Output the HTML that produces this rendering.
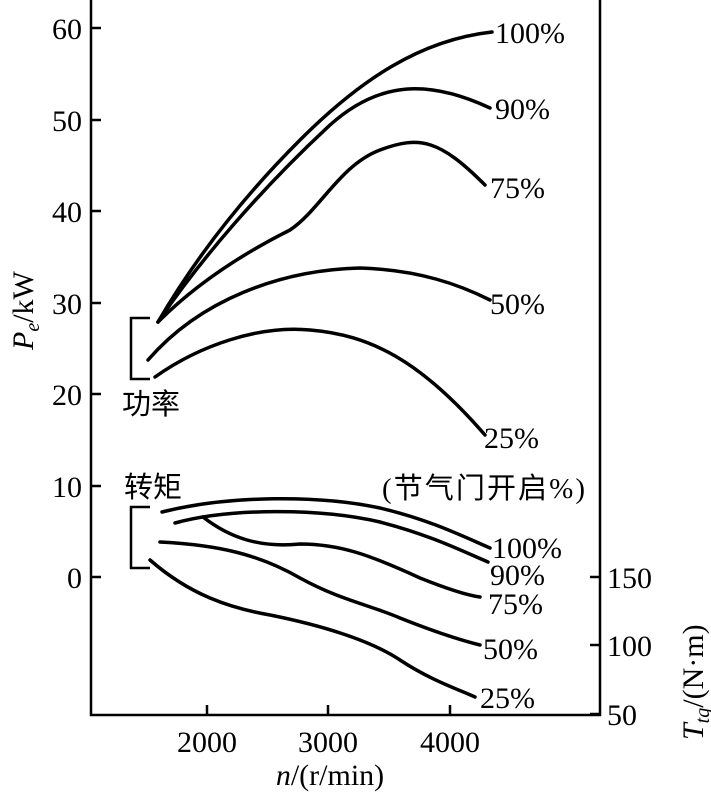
<!DOCTYPE html>
<html><head><meta charset="utf-8"><style>
html,body{margin:0;padding:0;background:#fff}
svg{display:block}
text{font-family:"Liberation Serif","Noto Serif CJK SC",serif;font-size:30px;fill:#000}
.c{font-family:"Liberation Serif","Noto Sans CJK SC",sans-serif;font-size:29px}
</style></head><body>
<svg width="711" height="792" viewBox="0 0 711 792" xmlns="http://www.w3.org/2000/svg">
<g fill="none" stroke="#000" stroke-width="2.5">
<path d="M91,0 V715 H600 V0"/>
<path d="M91,28h10M91,120h10M91,211h10M91,303h10M91,394h10M91,486h10M91,577h10"/>
<path d="M600,577h-10M600,645h-10M600,714h-10"/>
<path d="M207,715v-10M328,715v-10M450,715v-10"/>
<path d="M150,318 H131 V379 H150"/>
<path d="M150,507 H131 V568 H150"/>
</g>
<g fill="none" stroke="#000" stroke-width="3.5" stroke-linecap="round">
<path d="M158,322 C200,250 250,190 300,140 C360,80 420,40 492,32"/>
<path d="M158,322 C200,260 260,190 330,125 C380,80 430,80 490,108"/>
<path d="M158,322 C200,280 250,250 290,230 C320,210 340,165 380,150 C420,135 440,140 485,185"/>
<path d="M148,360 C200,300 280,270 360,268 C420,270 460,285 490,300"/>
<path d="M155,377 C200,345 260,325 310,330 C370,335 420,360 485,435"/>
<path d="M162,512 C230,495 320,495 380,508 C430,520 460,535 490,548"/>
<path d="M175,523 C230,508 320,508 380,522 C430,535 460,550 488,562"/>
<path d="M203,517 C230,538 260,548 300,544 C340,544 370,555 420,578 C445,588 465,595 480,597"/>
<path d="M160,542 C220,545 260,555 300,578 C340,600 370,605 400,618 C430,630 460,640 480,645"/>
<path d="M150,560 C190,595 230,608 270,615 C320,625 370,640 400,660 C430,680 460,690 475,697"/>
</g>
<g text-anchor="end">
<text x="82" y="39">60</text><text x="82" y="131">50</text><text x="82" y="222">40</text>
<text x="82" y="314">30</text><text x="82" y="405">20</text><text x="82" y="497">10</text><text x="82" y="588">0</text>
</g>
<text x="607" y="588">150</text><text x="607" y="656">100</text><text x="607" y="725">50</text>
<g text-anchor="middle">
<text x="207" y="752">2000</text><text x="328" y="752">3000</text><text x="450" y="752">4000</text>
</g>
<text x="330" y="785" text-anchor="middle"><tspan font-style="italic">n</tspan>/(r/min)</text>
<text transform="translate(33,350) rotate(-90)"><tspan font-style="italic">P</tspan><tspan font-style="italic" font-size="20" dy="6">e</tspan><tspan dy="-6">/kW</tspan></text>
<text transform="translate(703,740) rotate(-90)"><tspan font-style="italic">T</tspan><tspan font-style="italic" font-size="20" dy="6">tq</tspan><tspan dy="-6">/(N·m)</tspan></text>
<text x="495" y="43">100%</text><text x="495" y="119">90%</text><text x="490" y="198">75%</text>
<text x="490" y="314">50%</text><text x="484" y="448">25%</text>
<text x="492" y="558">100%</text><text x="490" y="585">90%</text><text x="488" y="614">75%</text>
<text x="483" y="659">50%</text><text x="480" y="708">25%</text>
<text class="c" x="122" y="414">功率</text>
<text class="c" x="124" y="497">转矩</text>
<text class="c" x="382" y="498" textLength="203">(节气门开启%)</text>
</svg>
</body></html>
